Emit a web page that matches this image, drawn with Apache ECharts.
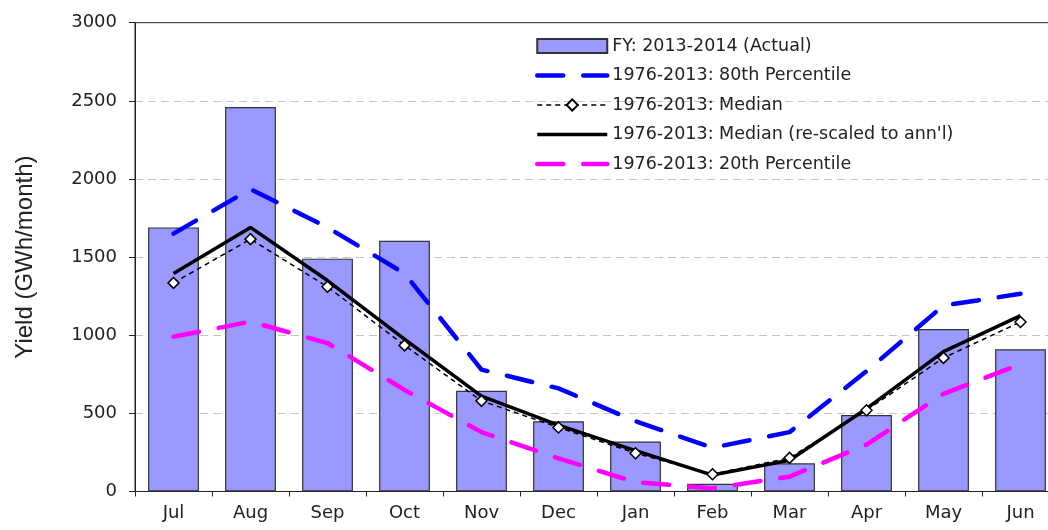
<!DOCTYPE html>
<html>
<head>
<meta charset="utf-8">
<script src="https://cdn.jsdelivr.net/npm/echarts@6/dist/echarts.min.js"></script>
<style>
  html, body { margin: 0; padding: 0; background: #fff; }
  #chart { width: 1048px; height: 530px; }
</style>
</head>
<body>
<div id="chart"></div>
<script>
// monthly yield, GWh/month
var months = ['Jul', 'Aug', 'Sep', 'Oct', 'Nov', 'Dec', 'Jan', 'Feb', 'Mar', 'Apr', 'May', 'Jun'];
var actual = [1690, 2460, 1490, 1605, 645, 450, 320, 50, 180, 490, 1040, 910];
var pct80 = [1650, 1935, 1690, 1395, 780, 660, 450, 280, 380, 770, 1190, 1265];
var median = [1335, 1615, 1310, 935, 580, 410, 245, 110, 215, 520, 855, 1085];
var medianRescaled = [1395, 1690, 1350, 975, 610, 425, 262, 105, 200, 530, 895, 1125];
var pct20 = [990, 1087, 950, 650, 380, 212, 60, 20, 95, 300, 625, 815];

var names = [
    'FY: 2013-2014 (Actual)',
    '1976-2013: 80th Percentile',
    '1976-2013: Median',
    "1976-2013: Median (re-scaled to ann'l)",
    '1976-2013: 20th Percentile'
];

var font = 'DejaVu Sans';
var chart = echarts.init(document.getElementById('chart'));

chart.setOption({
    animation: false,
    backgroundColor: '#fff',
    grid: {
        left: 135,
        top: 22.7,
        right: -11,
        bottom: 38.5,
        outerBoundsMode: 'none',
        containLabel: false,
        show: true,
        borderColor: '#222',
        borderWidth: 1
    },
    legend: {
        orient: 'vertical',
        left: 530,
        top: 32,
        itemWidth: 70,
        itemHeight: 14,
        itemGap: 11.5,
        selectedMode: false,
        textStyle: { fontFamily: font, fontSize: 17.5, color: '#222' },
        data: [
            { name: names[0], icon: 'rect' },
            { name: names[1], itemStyle: { opacity: 0 }, lineStyle: { width: 4.5 } },
            { name: names[2], lineStyle: { width: 1.5 } },
            { name: names[3], itemStyle: { opacity: 0 }, lineStyle: { width: 3.5 } },
            { name: names[4], itemStyle: { opacity: 0 }, lineStyle: { width: 4.5 } }
        ]
    },
    xAxis: {
        type: 'category',
        data: months,
        axisLine: { lineStyle: { color: '#222', width: 1 } },
        axisTick: { show: true, length: 5, interval: 0, lineStyle: { color: '#222' } },
        axisLabel: { margin: 13, fontFamily: font, fontSize: 18, color: '#222' },
        splitLine: { show: false }
    },
    yAxis: {
        type: 'value',
        min: 0,
        max: 3000,
        interval: 500,
        name: 'Yield (GWh/month)',
        nameLocation: 'middle',
        nameGap: 98,
        nameTextStyle: { fontFamily: 'Liberation Sans', fontSize: 24, color: '#222' },
        axisLine: { show: true, lineStyle: { color: '#222', width: 1 } },
        axisTick: { show: true, length: 6, lineStyle: { color: '#222' } },
        axisLabel: {
            margin: 18,
            fontFamily: font,
            fontSize: 18,
            color: '#222',
            formatter: function (v) { return String(v); }
        },
        splitLine: {
            show: true,
            showMinLine: false,
            showMaxLine: false,
            lineStyle: { color: '#c4c4c4', type: [8, 5], width: 1 }
        }
    },
    series: [
        {
            name: names[0],
            type: 'bar',
            data: actual,
            barWidth: '66%',
            itemStyle: { color: '#9999ff', borderColor: '#333', borderWidth: 1.2 }
        },
        {
            name: names[1],
            type: 'line',
            data: pct80,
            symbol: 'none',
            lineStyle: { color: '#0000ff', width: 4.5, type: [26, 20], cap: 'round' },
            itemStyle: { color: '#0000ff' }
        },
        {
            name: names[2],
            type: 'line',
            data: median,
            symbol: 'diamond',
            symbolSize: 11,
            lineStyle: { color: '#000', width: 1.5, type: [5, 4] },
            itemStyle: { color: '#fff', borderColor: '#000', borderWidth: 1.5 }
        },
        {
            name: names[3],
            type: 'line',
            data: medianRescaled,
            symbol: 'none',
            lineStyle: { color: '#000', width: 3.5 },
            itemStyle: { color: '#000' }
        },
        {
            name: names[4],
            type: 'line',
            data: pct20,
            symbol: 'none',
            lineStyle: { color: '#ff00ff', width: 4.5, type: [26, 20], cap: 'round' },
            itemStyle: { color: '#ff00ff' }
        }
    ]
});
</script>
</body>
</html>
